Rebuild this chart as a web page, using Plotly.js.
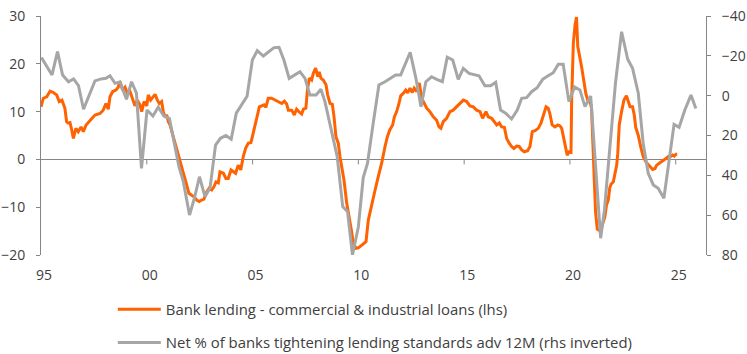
<!DOCTYPE html>
<html>
<head>
<meta charset="utf-8">
<script src="https://cdn.plot.ly/plotly-3.0.1.min.js"></script>
<style>
html,body{margin:0;padding:0;background:#fff;}
#chart{width:747px;height:354px;}
</style>
</head>
<body>
<div id="chart"></div>
<script>
// Tick labels
const tickYears = [1995, 2000, 2005, 2010, 2015, 2020, 2025];
const tickLabels = ["95", "00", "05", "10", "15", "20", "25"];

// Bank lending - C&I loans YoY % (lhs)
const orangeYears = [1995.00,1995.11,1995.27,1995.43,1995.58,1995.74,1995.86,1995.99,1996.13,1996.21,1996.29,1996.37,1996.45,1996.53,1996.65,1996.76,1996.89,1997.00,1997.13,1997.32,1997.55,1997.79,1997.94,1998.07,1998.18,1998.26,1998.39,1998.54,1998.65,1998.73,1998.86,1998.97,1999.10,1999.21,1999.33,1999.44,1999.55,1999.68,1999.76,1999.87,2000.00,2000.07,2000.18,2000.31,2000.39,2000.50,2000.59,2000.70,2000.78,2000.86,2000.94,2001.02,2001.10,2001.25,2001.41,2001.57,2001.73,2001.89,2001.99,2002.12,2002.23,2002.36,2002.48,2002.59,2002.70,2002.83,2002.95,2003.07,2003.18,2003.27,2003.38,2003.46,2003.62,2003.74,2003.85,2003.98,2004.09,2004.20,2004.32,2004.44,2004.56,2004.67,2004.80,2004.92,2005.03,2005.19,2005.32,2005.43,2005.54,2005.63,2005.74,2005.90,2006.06,2006.21,2006.38,2006.50,2006.61,2006.69,2006.85,2006.97,2007.08,2007.21,2007.32,2007.40,2007.52,2007.59,2007.68,2007.79,2007.87,2007.98,2008.08,2008.15,2008.23,2008.34,2008.47,2008.55,2008.66,2008.77,2008.85,2008.94,2009.05,2009.13,2009.21,2009.32,2009.45,2009.57,2009.68,2009.76,2009.89,2010.00,2010.16,2010.28,2010.36,2010.47,2010.63,2010.79,2010.94,2011.10,2011.26,2011.37,2011.49,2011.62,2011.70,2011.81,2011.92,2012.00,2012.12,2012.24,2012.33,2012.44,2012.55,2012.64,2012.76,2012.88,2012.99,2013.11,2013.23,2013.38,2013.54,2013.70,2013.81,2013.90,2014.01,2014.17,2014.33,2014.48,2014.64,2014.80,2014.96,2015.12,2015.27,2015.43,2015.59,2015.75,2015.87,2016.03,2016.14,2016.30,2016.42,2016.54,2016.66,2016.77,2016.90,2017.01,2017.13,2017.24,2017.35,2017.48,2017.60,2017.72,2017.84,2018.00,2018.11,2018.22,2018.35,2018.50,2018.63,2018.74,2018.87,2018.97,2019.05,2019.16,2019.29,2019.42,2019.53,2019.61,2019.72,2019.81,2019.87,2019.97,2020.05,2020.08,2020.16,2020.24,2020.31,2020.37,2020.45,2020.55,2020.66,2020.75,2020.86,2020.94,2021.02,2021.07,2021.12,2021.17,2021.21,2021.29,2021.37,2021.45,2021.54,2021.65,2021.73,2021.81,2021.88,2021.94,2022.05,2022.13,2022.21,2022.26,2022.33,2022.44,2022.55,2022.67,2022.76,2022.84,2022.96,2023.04,2023.11,2023.23,2023.34,2023.46,2023.62,2023.78,2023.91,2024.02,2024.10,2024.22,2024.33,2024.44,2024.57,2024.65,2024.76,2024.85,2024.93,2025.01,2025.07];
const orangeVals = [11.0,12.8,13.1,14.3,14.0,13.5,12.1,12.4,10.7,7.9,7.6,7.7,6.2,4.4,6.5,5.8,6.8,5.8,7.2,8.2,9.3,9.6,10.3,11.7,10.5,13.1,14.2,14.5,15.1,16.3,14.5,15.1,13.7,14.2,12.4,11.2,12.4,11.4,10.0,12.1,11.2,13.5,12.4,13.1,13.6,12.4,11.7,12.1,10.0,8.9,9.3,7.9,7.2,4.75,2.0,-0.5,-2.9,-5.4,-7.1,-7.5,-7.8,-8.5,-8.8,-8.5,-8.3,-6.8,-6.0,-6.4,-5.7,-4.7,-4.9,-2.6,-2.9,-4.0,-4.0,-2.2,-2.6,-2.9,-1.2,-2.2,0.6,2.3,3.4,3.5,5.5,8.5,11.0,11.2,11.4,10.9,12.8,12.8,12.4,12.1,11.7,12.2,11.6,10.3,10.3,9.3,10.5,9.9,9.5,10.5,10.7,14.5,17.0,16.6,18.0,19.1,17.3,18.3,17.0,16.6,15.6,13.5,11.7,11.5,8.9,4.75,3.4,0.6,-1.5,-4.3,-9.2,-12.0,-15.1,-17.6,-18.6,-18.5,-17.9,-17.6,-17.2,-12.7,-9.2,-6.4,-3.6,-0.8,2.7,4.75,6.2,7.2,8.9,10.0,11.7,13.3,13.8,14.5,13.9,14.9,14.0,14.9,14.2,16.0,12.8,11.7,10.7,10.0,8.9,8.2,6.8,6.5,7.9,8.6,10.0,10.3,11.0,11.7,12.4,12.1,11.2,11.0,10.3,10.0,8.6,10.0,8.9,8.6,7.9,7.2,7.6,6.8,6.7,4.4,3.4,2.7,2.3,2.8,2.7,2.0,1.6,1.8,2.7,5.8,6.0,6.5,7.6,9.1,11.0,10.7,9.6,7.2,6.8,7.2,7.0,6.5,4.4,2.7,0.9,1.6,1.5,12.4,24.3,28.1,29.8,23.6,22.0,19.4,16.3,13.8,12.1,12.4,10.7,6.0,-1.0,-6.5,-11.0,-14.6,-14.8,-14.8,-13.6,-12.0,-9.5,-8.5,-6.0,-5.2,-4.7,-3.1,-1.2,1.3,7.2,10.0,12.4,13.3,12.2,11.0,11.0,9.3,6.7,5.0,2.7,0.6,-0.7,-1.5,-2.1,-1.9,-1.2,-0.8,-0.5,-0.1,0.3,0.6,0.6,0.9,0.7,1.1,1.1];

// Net % of banks tightening lending standards, advanced 12M (rhs inverted)
const grayYears = [1995.02,1995.52,1995.78,1996.02,1996.30,1996.54,1996.77,1997.01,1997.55,1997.84,1998.07,1998.26,1998.50,1998.73,1999.04,1999.28,1999.51,1999.75,2000.01,2000.29,2000.54,2000.81,2001.07,2001.31,2001.52,2001.73,2002.02,2002.25,2002.49,2002.75,2002.99,2003.25,2003.48,2003.74,2003.99,2004.23,2004.47,2004.74,2004.99,2005.22,2005.51,2005.79,2006.01,2006.25,2006.48,2006.73,2006.97,2007.24,2007.48,2007.71,2008.00,2008.23,2008.42,2008.66,2009.00,2009.26,2009.49,2009.72,2010.00,2010.23,2010.43,2010.70,2010.97,2011.26,2011.49,2011.76,2012.00,2012.24,2012.45,2012.72,2012.96,2013.19,2013.46,2013.70,2013.97,2014.20,2014.46,2014.72,2014.96,2015.23,2015.44,2015.70,2015.98,2016.25,2016.49,2016.72,2016.96,2017.24,2017.51,2017.72,2017.95,2018.19,2018.45,2018.71,2018.95,2019.21,2019.45,2019.68,2019.95,2020.22,2020.47,2020.71,2020.98,2021.21,2021.45,2021.63,2021.89,2022.15,2022.44,2022.73,2022.96,2023.23,2023.46,2023.70,2023.94,2024.17,2024.44,2024.65,2024.92,2025.16,2025.43,2025.72,2025.95];
const grayVals = [-19.2,-10.4,-22.1,-10.4,-7.0,-8.4,-5.1,6.8,-7.4,-8.4,-8.7,-10.0,-6.2,-6.9,1.8,-7.0,-1.3,36.5,7.2,10.2,5.7,10.2,11.5,23.5,35.6,43.3,59.9,51.5,40.7,50.7,46.3,24.8,21.4,20.0,21.9,8.8,4.9,0.3,-17.9,-22.6,-19.9,-22.1,-24.1,-24.3,-17.9,-8.7,-10.4,-12.0,-8.7,-0.3,-0.3,-3.2,3.0,14.7,30.6,55.7,58.2,80,65.8,41.1,34.0,13.9,-5.4,-7.0,-8.7,-10.4,-10.4,-16.3,-21.8,-8.7,5.5,-7.0,-9.5,-8.2,-7.0,-19.3,-17.9,-8.2,-13.7,-11.2,-10.7,-10.0,-5.0,-5.0,-6.7,7.2,8.8,11.7,7.2,1.3,1.0,-2.0,-4.0,-8.2,-9.9,-11.5,-15.8,-15.8,3.0,-4.4,-2.9,5.5,0.2,35.7,71.6,57.4,23.9,-6.2,-32.1,-18.3,-13.7,-1.2,23.9,39.0,44.8,46.5,51.5,35.7,14.4,15.9,7.2,-0.3,6.4];

const seriesNames = ["Bank lending - commercial & industrial loans (lhs)",
                     "Net % of banks tightening lending standards adv 12M (rhs inverted)"];

const ORANGE = "#FF6200";
const GRAY = "#A6A6A6";
const AXIS = "#868686";
const TXT = "#404040";
const FONT = "Open Sans, Liberation Sans, sans-serif";

// gray drawn first so orange sits on top
const traces = [
  {x: grayYears, y: grayVals, type: "scatter", mode: "lines", name: seriesNames[1],
   line: {color: GRAY, width: 3}, yaxis: "y2", legendgroup: "b", legendrank: 2},
  {x: orangeYears, y: orangeVals, type: "scatter", mode: "lines", name: seriesNames[0],
   line: {color: ORANGE, width: 3}, yaxis: "y", legendgroup: "a", legendrank: 1}
];

const plotH = 354 - 16 - 99;
const zeroFrac = 20 / 50;
const tickShapes = tickYears.slice(1).map(t => ({
  type: "line", xref: "x", yref: "paper", x0: t, x1: t,
  y0: zeroFrac, y1: zeroFrac - 5 / plotH, line: {color: AXIS, width: 1}
}));

const layout = {
  width: 747, height: 354,
  margin: {l: 41, r: 41, t: 16, b: 99, pad: 0, autoexpand: false},
  paper_bgcolor: "#fff", plot_bgcolor: "#fff",
  font: {family: FONT, size: 14, color: TXT},
  showlegend: true,
  legend: {x: 0.108, y: -0.159, xanchor: "left", yanchor: "top", orientation: "v",
           traceorder: "grouped", tracegroupgap: 11, itemwidth: 43,
           font: {family: FONT, size: 14.9, color: TXT}, bgcolor: "rgba(0,0,0,0)"},
  xaxis: {range: [1995, 2026.43], tickvals: tickYears, ticktext: tickLabels,
          showgrid: false, zeroline: false, showline: false, ticks: "",
          ticklabelstandoff: 10, ticklabelshift: 3,
          tickfont: {family: FONT, size: 14, color: TXT}, fixedrange: true},
  yaxis: {range: [-20, 30], dtick: 10, tick0: 0, showgrid: false,
          zeroline: true, zerolinecolor: AXIS, zerolinewidth: 1,
          showline: true, linecolor: AXIS, linewidth: 1,
          ticks: "outside", ticklen: 4, tickcolor: AXIS, ticklabelstandoff: 8,
          tickfont: {family: FONT, size: 14, color: TXT}},
  yaxis2: {range: [80, -40], dtick: 20, tick0: 0, overlaying: "y", side: "right",
           showgrid: false, zeroline: false,
           showline: true, linecolor: AXIS, linewidth: 1,
           ticks: "outside", ticklen: 4, tickcolor: AXIS, ticklabelstandoff: 8,
           tickfont: {family: FONT, size: 14, color: TXT}},
  shapes: tickShapes
};

Plotly.newPlot("chart", traces, layout, {displayModeBar: false, staticPlot: true});
</script>
</body>
</html>
